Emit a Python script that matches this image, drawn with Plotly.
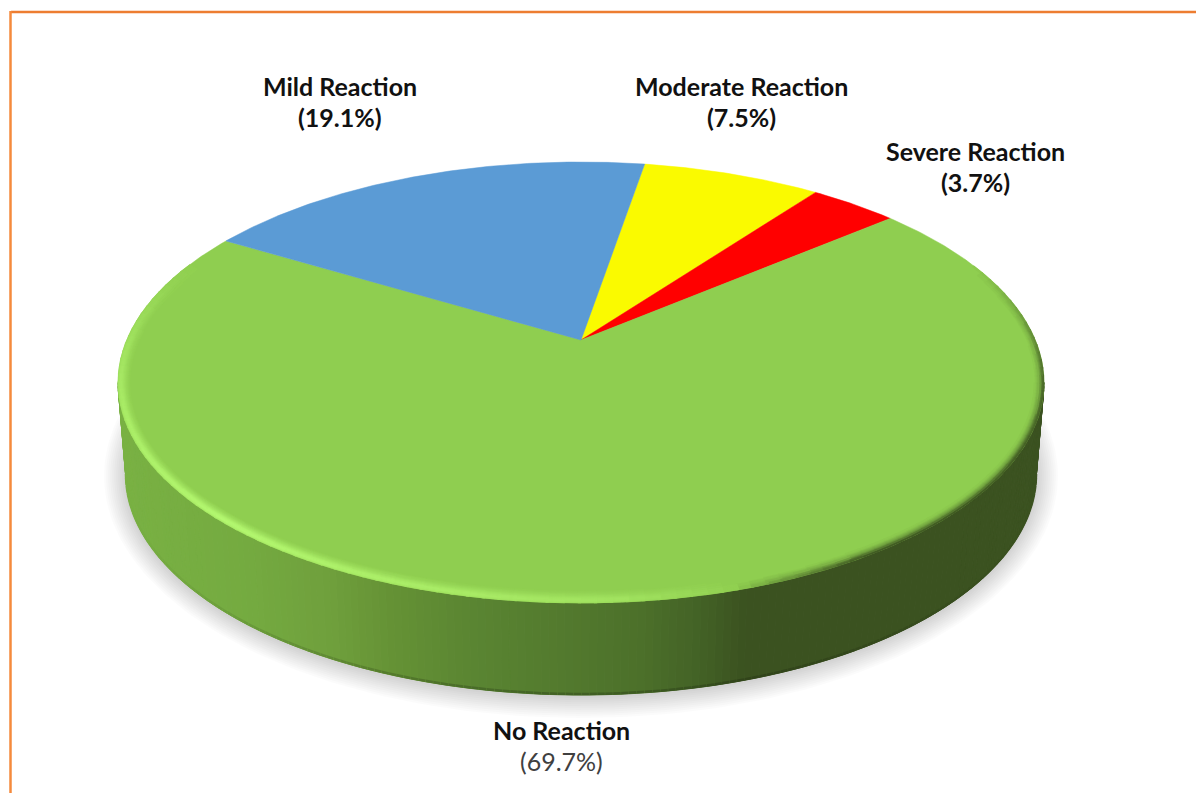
import numpy as np
import plotly.graph_objects as go

# ---- data ----
categories = ["Moderate Reaction", "Severe Reaction", "No Reaction", "Mild Reaction"]
percent = [7.5, 3.7, 69.7, 19.1]
slice_colors = ["#FAFA00", "#FF0000", "#8FCE50", "#5B9BD5"]
label_centres = [(741, 86), (975, 151), (561, 730), (340, 86)]
label_line_gap = 31
first_angle_deg = 9.6

# ---- drawing geometry (pixel-scaled axes) ----
W, H = 1196, 793
CX, CY, A, B = 581.0, 382.5, 463.0, 220.5
DEPTH_CY, DEPTH_A, DEPTH_B = 475.0, 455.0, 220.0
APEX_Y = 340.0
GREEN = "#8FCE50"


def rgb(h):
    h = h.lstrip("#")
    return np.array([int(h[i:i + 2], 16) for i in (0, 2, 4)], float)


def mix(c1, c2, w):
    c = rgb(c1) * (1 - w) + rgb(c2) * w
    return "#%02x%02x%02x" % tuple(int(round(v)) for v in c)


# perspective map of a unit disc onto the top ellipse
C = CY - APEX_Y
K = -(2 * C) / (2 * B)
BB = B * (1 - K) - C
AA = A * np.sqrt(1 - K * K)


def project(theta_deg):
    th = np.radians(theta_deg)
    u, v = np.sin(th), np.cos(th)
    d = 1 - K * v
    return CX + AA * u / d, CY - (BB * v + C) / d


fig = go.Figure()


def poly(xs, ys, color, line=0.0):
    fig.add_trace(go.Scatter(
        x=list(xs), y=list(ys), mode="lines", fill="toself", fillcolor=color,
        line=dict(color=color, width=line), hoverinfo="skip", showlegend=False))


# soft shadow
for grow in range(22, 0, -2):
    t = np.linspace(0, 2 * np.pi, 240)
    poly(CX + (DEPTH_A + grow) * np.cos(t), DEPTH_CY + 1 + (DEPTH_B + grow) * np.sin(t),
         "rgba(0,0,0,0.0145)")

# side wall, shaded across x
wall_x = [118, 250, 330, 390, 470, 560, 640, 700, 745, 1044]
wall_c = ["#79b143", "#74aa40", "#6f9f3c", "#659235", "#5a8532", "#537a2e", "#4c702a",
          "#436226", "#3b5220", "#3b5220"]
wall_rgb = np.array([rgb(c) for c in wall_c])


def wall_color(x):
    return "#%02x%02x%02x" % tuple(int(round(np.interp(x, wall_x, wall_rgb[:, i]))) for i in range(3))


steps = np.arange(0, 180, 1.0)
for s in steps:
    t = np.radians([s, s + 1.0])
    xt = CX + A * np.cos(t)
    yt = CY + B * np.sin(t)
    xb = CX + DEPTH_A * np.cos(t)
    yb = DEPTH_CY + DEPTH_B * np.sin(t)
    col = wall_color(xt.mean())
    poly([xt[0], xt[1], xb[1], xb[0], xt[0]], [yt[0], yt[1], yb[1], yb[0], yt[0]], col, 1.0)
    fig.add_trace(go.Scatter(x=xb, y=yb - 1, mode="lines",
                             line=dict(color=mix(col, "#000000", 0.2 * np.sin(t.mean()) ** 2), width=2.5),
                             hoverinfo="skip", showlegend=False))

# top face slices, from the percentages
start = first_angle_deg
for name, val, col in zip(categories, percent, slice_colors):
    sweep = val * 3.6
    ang = np.linspace(start, start + sweep, max(int(sweep * 2), 4))
    px, py = project(ang)
    fig.add_trace(go.Scatter(
        x=[CX, *px, CX], y=[APEX_Y, *py, APEX_Y], mode="lines", fill="toself",
        fillcolor=col, line=dict(color=col, width=0.5), name=name,
        hoverinfo="skip", showlegend=False))
    start += sweep

# bevel along the front of the rim
LIGHT, DARK = "#B4F870", "#3B5220"
t_k = [-32, -12, 0, 30, 52, 64, 72, 85, 100, 125, 140, 170, 190, 214]
s_k = [0, -0.55, -0.85, -0.95, -0.95, -0.45, 0.1, 0.5, 0.65, 0.85, 1.0, 0.75, 0.5, 0]
d_k = [0.0, 2.0, 4.0, 8.0, 12.0]
light_w = [0.6, 1.0, 0.95, 0.4, 0.0]
dark_w = [1.0, 0.8, 0.4, 0.04, 0.0]
buckets = {}
for d in np.arange(0.5, 12.0, 1.0):
    for s in np.arange(-32, 214, 2.0):
        st = np.interp(s + 1, t_k, s_k)
        w = st * np.interp(d, d_k, light_w) if st > 0 else st * np.interp(d, d_k, dark_w)
        q = round(w * 24)
        if q == 0:
            continue
        t = np.radians([s, s + 2.4])
        bx = CX + (A - d) * np.cos(t)
        by = CY + (B - d) * np.sin(t)
        xs, ys = buckets.setdefault(q, ([], []))
        xs += [bx[0], bx[1], None]
        ys += [by[0], by[1], None]
for q, (xs, ys) in buckets.items():
    col = mix(GREEN, LIGHT, q / 24) if q > 0 else mix(GREEN, DARK, -q / 24)
    fig.add_trace(go.Scatter(x=xs, y=ys, mode="lines", line=dict(color=col, width=1.6),
                             hoverinfo="skip", showlegend=False))

# labels
FONT = "Lato, Carlito, Calibri, sans-serif"
for name, val, (lx, ly) in zip(categories, percent, label_centres):
    plain = name == "No Reaction"
    fig.add_annotation(x=lx, y=ly, text=f"<b>{name}</b>", showarrow=False,
                       font=dict(family=FONT, size=25, color="#111111"),
                       xanchor="center", yanchor="middle")
    pct = f"({val}%)"
    fig.add_annotation(x=lx, y=ly + label_line_gap, text=pct if plain else f"<b>{pct}</b>",
                       showarrow=False,
                       font=dict(family=FONT, size=25, color="#404040" if plain else "#111111"),
                       xanchor="center", yanchor="middle")

# orange frame on the top and left
fig.add_shape(type="line", x0=11, x1=W, y0=12, y1=12, line=dict(color="#ED7D31", width=2.5))
fig.add_shape(type="line", x0=10.5, x1=10.5, y0=11, y1=H, line=dict(color="#F58A3C", width=2.5))

fig.update_layout(
    width=W, height=H, margin=dict(l=0, r=0, t=0, b=0),
    paper_bgcolor="white", plot_bgcolor="white", showlegend=False,
    xaxis=dict(range=[0, W], visible=False, fixedrange=True),
    yaxis=dict(range=[H, 0], visible=False, fixedrange=True),
)
fig.write_html("out.html", config={"displayModeBar": False},
               post_script="document.body.style.margin='0';document.documentElement.style.overflow='hidden';")
